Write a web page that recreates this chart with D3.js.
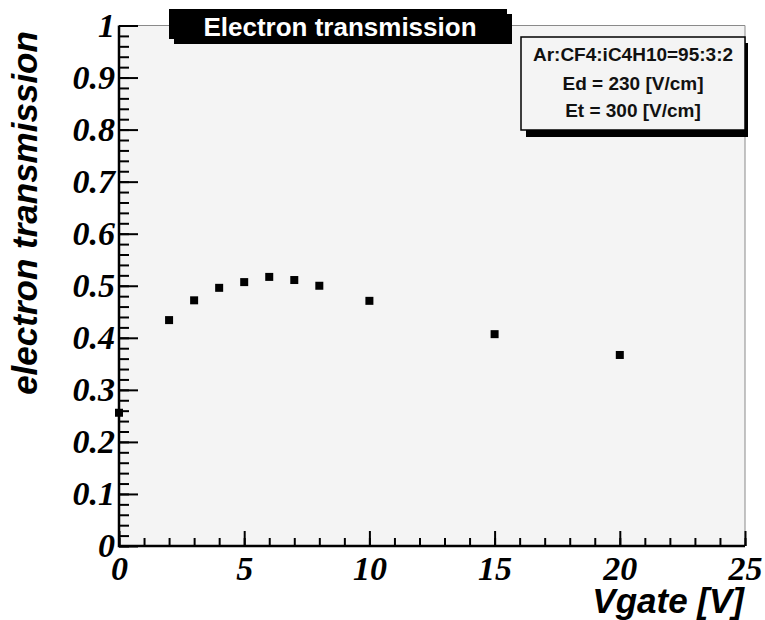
<!DOCTYPE html>
<html>
<head>
<meta charset="utf-8">
<script src="https://cdn.jsdelivr.net/npm/d3@7"></script>
<style>
  body { margin: 0; background: #fff; }
  svg { display: block; }
</style>
</head>
<body>
<svg id="chart" width="765" height="620"></svg>
<script>
// data
const vgate = [0, 2, 3, 4, 5, 6, 7, 8, 10, 15, 20];
const transmission = [0.256, 0.434, 0.472, 0.496, 0.507, 0.517, 0.511, 0.500, 0.471, 0.407, 0.367];
const xTicks = [0, 5, 10, 15, 20, 25];
const yTicks = [0, 0.1, 0.2, 0.3, 0.4, 0.5, 0.6, 0.7, 0.8, 0.9, 1];
const legendLines = ["Ar:CF4:iC4H10=95:3:2", "Ed = 230 [V/cm]", "Et = 300 [V/cm]"];

const svg = d3.select("#chart");
const plotL = 119, plotR = 745, plotT = 25.5, plotB = 546;

const x = d3.scaleLinear().domain([0, 25]).range([plotL, plotR]);
const y = d3.scaleLinear().domain([0, 1]).range([plotB, plotT]);

const tickFont = "'Liberation Serif', 'Times New Roman', serif";
const sansFont = "'Liberation Sans', Arial, sans-serif";

// plot background
svg.append("rect")
  .attr("x", plotL).attr("y", plotT)
  .attr("width", plotR - plotL).attr("height", plotB - plotT)
  .attr("fill", "#f4f4f4");

// thin frame on top and right
svg.append("path")
  .attr("d", `M${plotL},${plotT}H${plotR}V${plotB}`)
  .attr("fill", "none")
  .attr("stroke", "#8a8a8a")
  .attr("stroke-width", 1);

// markers
svg.selectAll(".pt")
  .data(vgate.map((v, i) => ({ v: v, t: transmission[i] })))
  .enter()
  .append("rect")
  .attr("class", "pt")
  .attr("x", (d) => x(d.v) - 4)
  .attr("y", (d) => y(d.t) - 4)
  .attr("width", 8)
  .attr("height", 8)
  .attr("fill", "#000");

// y ticks (inside)
function styleTicks(g, w) {
  g.select(".domain").remove();
  g.selectAll("line").attr("stroke", "#000").attr("stroke-width", w);
}
svg.append("g")
  .attr("transform", `translate(${plotL},0)`)
  .call(d3.axisRight(y).tickValues(d3.range(0, 51).map((i) => i / 50)).tickSize(10).tickFormat(""))
  .call((g) => styleTicks(g, 2));
svg.append("g")
  .attr("transform", `translate(${plotL},0)`)
  .call(d3.axisRight(y).tickValues(yTicks).tickSize(19).tickFormat(""))
  .call((g) => styleTicks(g, 2));

// x ticks (inside, pointing up)
svg.append("g")
  .attr("transform", `translate(0,${plotB})`)
  .call(d3.axisTop(x).tickValues(d3.range(0, 26)).tickSize(8).tickFormat(""))
  .call((g) => styleTicks(g, 2));
svg.append("g")
  .attr("transform", `translate(0,${plotB})`)
  .call(d3.axisTop(x).tickValues(xTicks).tickSize(15).tickFormat(""))
  .call((g) => styleTicks(g, 2));

// tick labels
const yLab = svg.append("g")
  .attr("transform", `translate(${plotL},0)`)
  .call(d3.axisLeft(y).tickValues(yTicks).tickSize(0).tickPadding(4).tickFormat(d3.format("")));
yLab.select(".domain").remove();
yLab.selectAll("text")
  .attr("font-family", tickFont)
  .attr("font-style", "italic")
  .attr("font-weight", "bold")
  .attr("font-size", 34)
  .attr("fill", "#000");

const xLab = svg.append("g")
  .attr("transform", `translate(0,${plotB})`)
  .call(d3.axisBottom(x).tickValues(xTicks).tickSize(0).tickPadding(10));
xLab.select(".domain").remove();
xLab.selectAll("text")
  .attr("font-family", tickFont)
  .attr("font-style", "italic")
  .attr("font-weight", "bold")
  .attr("font-size", 34)
  .attr("fill", "#000");

// thick axis lines
svg.append("path")
  .attr("d", `M${plotL},${plotT}V${plotB}H${plotR}`)
  .attr("fill", "none")
  .attr("stroke", "#000")
  .attr("stroke-width", 2.5);

// axis titles
svg.append("text")
  .attr("x", plotR - 1)
  .attr("y", 613)
  .attr("text-anchor", "end")
  .attr("font-family", sansFont)
  .attr("font-style", "italic")
  .attr("font-weight", "bold")
  .attr("font-size", 35)
  .text("Vgate [V]");

svg.append("text")
  .attr("transform", "translate(37,213) rotate(-90)")
  .attr("text-anchor", "middle")
  .attr("font-family", sansFont)
  .attr("font-style", "italic")
  .attr("font-weight", "bold")
  .attr("font-size", 35)
  .text("electron transmission");

// title box
svg.append("rect")
  .attr("x", 174).attr("y", 14).attr("width", 338).attr("height", 30)
  .attr("fill", "#000");
svg.append("rect")
  .attr("x", 169).attr("y", 9).attr("width", 338).attr("height", 30)
  .attr("fill", "#000");
svg.append("text")
  .attr("x", 340)
  .attr("y", 36)
  .attr("text-anchor", "middle")
  .attr("font-family", sansFont)
  .attr("font-weight", "bold")
  .attr("font-size", 26)
  .attr("fill", "#fff")
  .text("Electron transmission");

// legend box
svg.append("rect")
  .attr("x", 526).attr("y", 43).attr("width", 222).attr("height", 94)
  .attr("fill", "#000");
svg.append("rect")
  .attr("x", 521).attr("y", 37).attr("width", 224).attr("height", 93)
  .attr("fill", "#f4f4f4")
  .attr("stroke", "#000")
  .attr("stroke-width", 1.5);
svg.selectAll(".leg")
  .data(legendLines)
  .enter()
  .append("text")
  .attr("class", "leg")
  .attr("x", 633)
  .attr("y", (d, i) => [61, 90, 117][i])
  .attr("text-anchor", "middle")
  .attr("font-family", sansFont)
  .attr("font-weight", "bold")
  .attr("font-size", 19)
  .attr("fill", "#111")
  .text((d) => d);
</script>
</body>
</html>
